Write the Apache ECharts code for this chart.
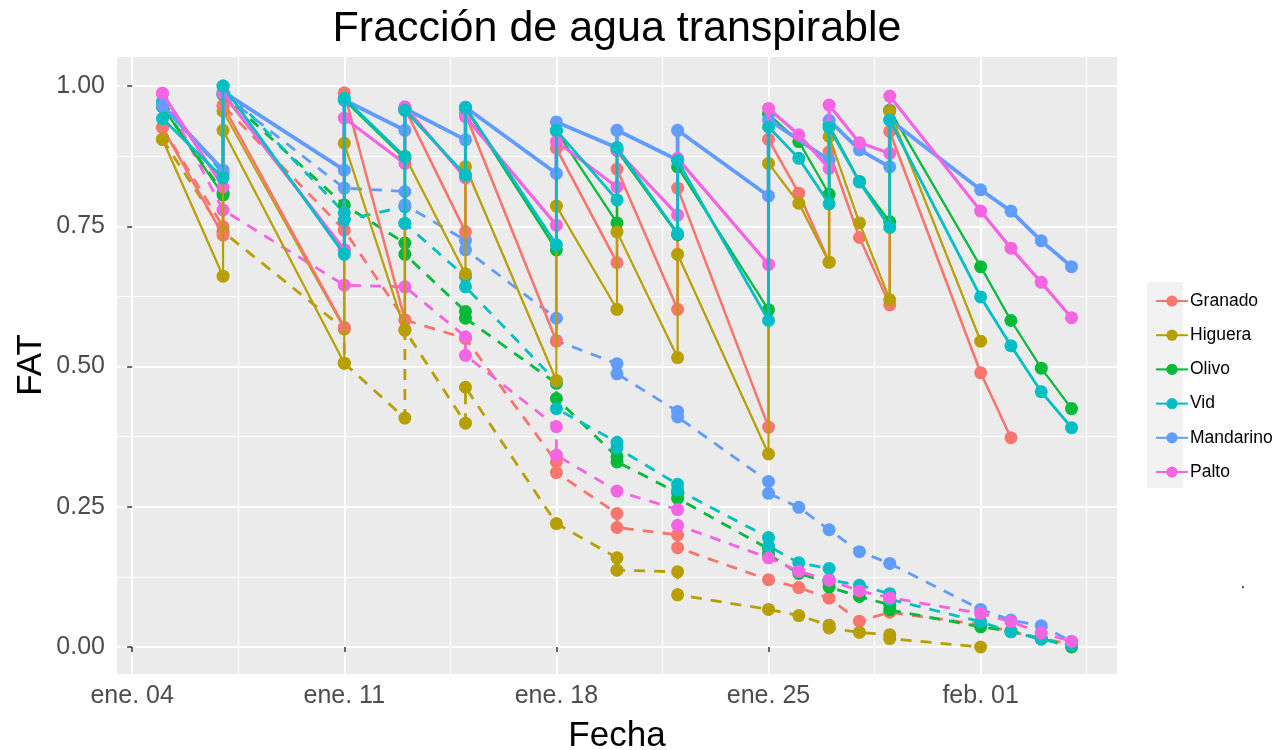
<!DOCTYPE html>
<html><head><meta charset="utf-8">
<script src="https://cdn.jsdelivr.net/npm/echarts@6/dist/echarts.min.js"></script>
<style>html,body{margin:0;padding:0;background:#fff}#c{width:1287px;height:750px}</style>
</head><body><div id="c"></div>
<script>
// ---------- data ----------
const crops = ['Granado','Higuera','Olivo','Vid','Mandarino','Palto'];
const colors = ['#F8766D','#B79F00','#00BA38','#00BFC4','#619CFF','#F564E3'];
const xTickDates = ['01-04','01-11','01-18','01-25','02-01'];
const xTickLabels = ['ene. 04','ene. 11','ene. 18','ene. 25','feb. 01'];
const xMinorDates = ['01-07T12','01-14T12','01-21T12','01-28T12','02-04T12'];
const yTicks = [0, 0.25, 0.5, 0.75, 1];
const yMinor = [0.125, 0.375, 0.625, 0.875];

const granadoSolid = [['01-05',.926],['01-07',.734],['01-07',.965],['01-11',.57],['01-11',.988],['01-13',.583],['01-13',.96],['01-15',.74],['01-15',.95],['01-18',.545],['01-18',.889],['01-20',.685],['01-20',.852],['01-22',.602],['01-22',.818],['01-25',.392],['01-25',.905],['01-26',.809],['01-27',.686],['01-27',.883],['01-28',.73],['01-29',.61],['01-29',.919],['02-01',.489],['02-02',.373]];
const granadoDashed = [['01-05',.926],['01-07',.749],['01-07',.965],['01-11',.743],['01-13',.583],['01-15',.55],['01-18',.33],['01-18',.311],['01-20',.238],['01-20',.213],['01-22',.20],['01-22',.177],['01-25',.12],['01-26',.106],['01-27',.087],['01-28',.046],['01-29',.062],['02-01',.04],['02-02',.028],['02-03',.015],['02-04',.005]];

const higueraSolid = [['01-05',.905],['01-07',.661],['01-07',.921],['01-11',.506],['01-11',.898],['01-13',.565],['01-13',.875],['01-15',.665],['01-15',.856],['01-18',.475],['01-18',.786],['01-20',.602],['01-20',.74],['01-22',.516],['01-22',.70],['01-25',.344],['01-25',.862],['01-26',.791],['01-27',.686],['01-27',.91],['01-28',.756],['01-29',.619],['01-29',.955],['02-01',.545]];
const higueraSolid2 = [['01-07',.74],['01-07',.955],['01-11',.567]];
const higueraDashed = [['01-05',.905],['01-07',.74],['01-11',.567],['01-11',.506],['01-13',.408],['01-13',.565],['01-15',.399],['01-15',.463],['01-18',.22],['01-20',.159],['01-20',.137],['01-22',.134],['01-22',.093],['01-25',.067],['01-26',.056],['01-27',.039],['01-27',.034],['01-28',.026],['01-29',.022],['01-29',.015],['02-01',.0]];

const olivoSolid = [['01-05',.963],['01-07',.806],['01-07',.985],['01-11',.708],['01-11',.975],['01-13',.87],['01-13',.957],['01-15',.84],['01-15',.96],['01-18',.708],['01-18',.92],['01-20',.756],['01-20',.885],['01-22',.735],['01-22',.856],['01-25',.601],['01-25',.95],['01-26',.901],['01-27',.807],['01-27',.93],['01-28',.83],['01-29',.758],['01-29',.957],['02-01',.678],['02-02',.582],['02-03',.497],['02-04',.425]];
const olivoDashed = [['01-05',.963],['01-07',.81],['01-07',.985],['01-11',.788],['01-13',.72],['01-13',.70],['01-15',.598],['01-15',.586],['01-18',.47],['01-18',.443],['01-20',.339],['01-20',.33],['01-22',.275],['01-22',.265],['01-25',.175],['01-25',.165],['01-26',.131],['01-27',.115],['01-27',.107],['01-28',.09],['01-29',.075],['01-29',.066],['02-01',.036],['02-02',.028],['02-03',.015],['02-04',.0]];

const vidSolid = [['01-05',.942],['01-07',.836],['01-07',1.0],['01-11',.70],['01-11',.978],['01-13',.874],['01-13',.755],['01-13',.957],['01-15',.841],['01-15',.962],['01-18',.717],['01-18',.921],['01-20',.797],['01-20',.89],['01-22',.737],['01-22',.867],['01-25',.582],['01-25',.927],['01-26',.871],['01-27',.79],['01-27',.926],['01-28',.829],['01-29',.748],['01-29',.939],['02-01',.624],['02-02',.537],['02-03',.455],['02-04',.391]];
const vidDashed = [['01-05',.972],['01-07',.844],['01-07',1.0],['01-11',.774],['01-11',.761],['01-13',.785],['01-13',.755],['01-15',.66],['01-15',.642],['01-18',.473],['01-18',.425],['01-20',.365],['01-20',.355],['01-22',.29],['01-22',.28],['01-25',.195],['01-25',.18],['01-26',.15],['01-27',.14],['01-27',.12],['01-28',.11],['01-29',.095],['01-29',.085],['02-01',.045],['02-02',.027],['02-03',.014],['02-04',.004]];

const mandarinoSolid = [['01-05',.965],['01-07',.85],['01-07',.99],['01-11',.85],['01-11',.975],['01-13',.921],['01-13',.96],['01-15',.904],['01-15',.962],['01-18',.844],['01-18',.936],['01-20',.89],['01-20',.921],['01-22',.868],['01-22',.921],['01-25',.804],['01-25',.94],['01-27',.868],['01-27',.939],['01-28',.886],['01-29',.856],['01-29',.94],['02-01',.815],['02-02',.777],['02-03',.724],['02-04',.678]];
const mandarinoDashed = [['01-07',.985],['01-11',.818],['01-13',.812],['01-13',.788],['01-15',.725],['01-15',.708],['01-18',.586],['01-18',.546],['01-20',.505],['01-20',.487],['01-22',.42],['01-22',.41],['01-25',.295],['01-25',.274],['01-26',.249],['01-27',.209],['01-28',.17],['01-29',.149],['02-01',.067],['02-02',.048],['02-03',.038],['02-04',.01]];

const paltoSolid = [['01-05',.987],['01-07',.82],['01-07',.987],['01-11',.708],['01-11',.943],['01-13',.862],['01-13',.963],['01-15',.836],['01-15',.945],['01-18',.752],['01-18',.901],['01-20',.82],['01-20',.885],['01-22',.77],['01-22',.871],['01-25',.682],['01-25',.96],['01-26',.913],['01-27',.853],['01-27',.966],['01-28',.899],['01-29',.88],['01-29',.982],['02-01',.777],['02-02',.711],['02-03',.65],['02-04',.587]];
const paltoDashed = [['01-05',.987],['01-07',.779],['01-11',.645],['01-13',.642],['01-15',.553],['01-15',.52],['01-18',.393],['01-18',.342],['01-20',.278],['01-22',.245],['01-22',.217],['01-25',.159],['01-26',.135],['01-27',.119],['01-28',.10],['01-29',.088],['02-01',.06],['02-02',.045],['02-03',.025],['02-04',.01]];

// ---------- helpers ----------
const YEAR = 2019;
function dayOffset(s) {
  const [md, hh] = s.split('T');
  const [m, d] = md.split('-').map(Number);
  return (Date.UTC(YEAR, m - 1, d) - Date.UTC(YEAR, 0, 4)) / 86400000 + (hh ? Number(hh) / 24 : 0);
}
const toXY = arr => arr.map(([d, v]) => [dayOffset(d), v]);

const solids = [granadoSolid, higueraSolid, olivoSolid, vidSolid, mandarinoSolid, paltoSolid];
const dashed = [granadoDashed, higueraDashed, olivoDashed, vidDashed, mandarinoDashed, paltoDashed];
const solidWidth = [2.6, 2.2, 2.2, 2.8, 3.8, 3.2];
// stacking order of the solid lines (higher = drawn on top)
const solidZ = [3, 7, 4, 8, 5, 6];
const SYM = 13;

const series = [];
crops.forEach((c, i) => {
  series.push({
    type: 'line', name: c, data: toXY(solids[i]), xAxisIndex: 0, yAxisIndex: 0,
    symbol: 'circle', symbolSize: SYM, color: colors[i],
    itemStyle: { color: colors[i], borderWidth: 0 },
    lineStyle: { width: solidWidth[i], color: colors[i] },
    emphasis: { disabled: true }, animation: false, z: solidZ[i]
  });
});
crops.forEach((c, i) => {
  series.push({
    type: 'line', name: c, data: toXY(dashed[i]), xAxisIndex: 0, yAxisIndex: 0,
    symbol: 'circle', symbolSize: SYM, color: colors[i],
    itemStyle: { color: colors[i], borderWidth: 0 },
    lineStyle: { width: 2.8, color: colors[i], type: [11, 9] },
    emphasis: { disabled: true }, animation: false, z: 2
  });
});
series.push({
  type: 'line', name: 'Higuera', data: toXY(higueraSolid2), xAxisIndex: 0, yAxisIndex: 0,
  symbol: 'circle', symbolSize: SYM, color: colors[1],
  itemStyle: { color: colors[1], borderWidth: 0 },
  lineStyle: { width: 1.8, color: colors[1] },
  emphasis: { disabled: true }, animation: false, z: 2
});

const FONT = 'Liberation Sans, Arial, sans-serif';
const xMin = -0.5, xMax = 32.5, yMin = -0.0481, yMax = 1.0517;
const xMajor = xTickDates.map(dayOffset);
const xMin2 = xMinorDates.map(dayOffset);

const option = {
  backgroundColor: '#FFFFFF',
  animation: false,
  grid: { left: 117, top: 57, width: 1000, height: 617, show: true, backgroundColor: '#EBEBEB', borderWidth: 0 },
  xAxis: [
    { type: 'value', min: xMin, max: xMax,
      axisLine: { show: false },
      axisTick: { show: true, length: 5, customValues: xMajor, lineStyle: { color: '#333333', width: 1.5 } },
      axisLabel: { show: true, customValues: xMajor, margin: 10, color: '#4D4D4D', fontSize: 25, fontFamily: FONT,
        formatter: v => { const k = xMajor.findIndex(t => Math.abs(t - v) < 1e-6); return k >= 0 ? xTickLabels[k] : ''; } },
      splitLine: { show: true, lineStyle: { color: '#FFFFFF', width: 2 } } },
    { type: 'value', min: xMin, max: xMax, position: 'bottom',
      axisLine: { show: false },
      axisTick: { show: false, customValues: xMin2 },
      axisLabel: { show: false },
      splitLine: { show: true, lineStyle: { color: '#FFFFFF', width: 1 } } }
  ],
  yAxis: [
    { type: 'value', min: yMin, max: yMax,
      axisLine: { show: false },
      axisTick: { show: true, length: 5, customValues: yTicks, lineStyle: { color: '#333333', width: 1.5 } },
      axisLabel: { show: true, customValues: yTicks, margin: 12, color: '#4D4D4D', fontSize: 25, fontFamily: FONT,
        formatter: v => v.toFixed(2) },
      splitLine: { show: true, lineStyle: { color: '#FFFFFF', width: 2 } } },
    { type: 'value', min: yMin, max: yMax, position: 'left',
      axisLine: { show: false },
      axisTick: { show: false, customValues: yMinor },
      axisLabel: { show: false },
      splitLine: { show: true, lineStyle: { color: '#FFFFFF', width: 1 } } }
  ],
  legend: {
    orient: 'vertical', left: 1150, top: 287, itemWidth: 32, itemHeight: 14, itemGap: 16.2,
    data: crops, selectedMode: false,
    textStyle: { fontSize: 17.5, color: '#000000', fontFamily: FONT, lineHeight: 14, padding: [0, 0, 0, -3] }
  },
  graphic: [
    { type: 'rect', left: 1147, top: 282, z: -1, shape: { width: 36, height: 206 }, style: { fill: '#F2F2F2' } },
    { type: 'text', x: 617, y: 29, style: { text: 'Fracción de agua transpirable', font: '43px ' + FONT, fill: '#000', textAlign: 'center', textVerticalAlign: 'middle' } },
    { type: 'text', x: 617, y: 736, style: { text: 'Fecha', font: '35px ' + FONT, fill: '#000', textAlign: 'center', textVerticalAlign: 'middle' } },
    { type: 'text', x: 31, y: 365, rotation: Math.PI / 2, style: { text: 'FAT', font: '35px ' + FONT, fill: '#000', textAlign: 'center', textVerticalAlign: 'middle' } },
    { type: 'text', x: 1243, y: 584, style: { text: '.', font: '16px ' + FONT, fill: '#000', textAlign: 'center', textVerticalAlign: 'middle' } }
  ],
  series: series
};
const chart = echarts.init(document.getElementById('c'));
chart.setOption(option);
</script></body></html>
